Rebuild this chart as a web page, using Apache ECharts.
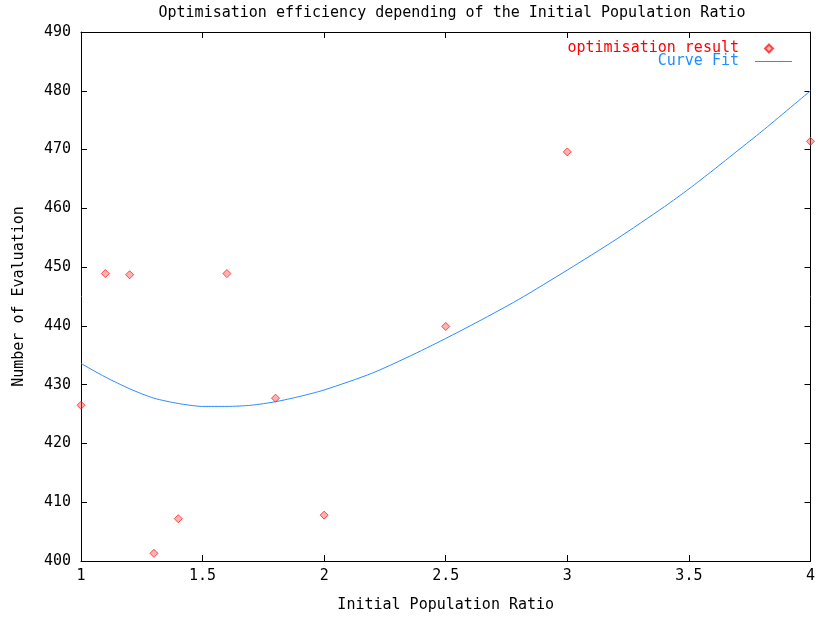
<!DOCTYPE html>
<html>
<head>
<meta charset="utf-8">
<script src="https://cdn.jsdelivr.net/npm/echarts@6/dist/echarts.min.js"></script>
<style>
  html, body { margin: 0; padding: 0; background: #fff; }
  #chart { width: 818px; height: 618px; }
</style>
</head>
<body>
<div id="chart"></div>
<script>
// Measured optimisation runs: ratio -> number of evaluations
const ratioValues = [1.0, 1.1, 1.2, 1.3, 1.4, 1.6, 1.8, 2.0, 2.5, 3.0, 4.0];
const evalValues  = [426.5, 448.9, 448.7, 401.3, 407.2, 448.9, 427.7, 407.8, 439.9, 469.6, 471.4];

// Fitted curve samples
const fitX = [1.0, 1.1, 1.2, 1.3, 1.4, 1.5, 1.6, 1.7, 1.8, 1.9, 2.0, 2.2, 2.4, 2.6, 2.8, 3.0, 3.2, 3.4, 3.5, 3.6, 3.7, 3.8, 4.0];
const fitY = [433.6, 431.3, 429.3, 427.7, 426.8, 426.3, 426.3, 426.5, 427.1, 428.0, 429.1, 432.0, 435.8, 440.0, 444.5, 449.5, 454.7, 460.3, 463.3, 466.5, 469.8, 473.1, 480.0];

const FONT = 'DejaVu Sans Mono';
const pts = ratioValues.map((x, i) => [x, evalValues[i]]);
const fit = fitX.map((x, i) => [x, fitY[i]]);

const chart = echarts.init(document.getElementById('chart'), null, { renderer: 'canvas' });

const tickStyle = { show: true, inside: true, length: 6, lineStyle: { color: '#000', width: 1 } };

chart.setOption({
  animation: false,
  backgroundColor: '#ffffff',
  textStyle: { fontFamily: FONT },
  title: {
    text: 'Optimisation efficiency depending of the Initial Population Ratio',
    left: 447,
    top: 1,
    textAlign: 'center',
    textStyle: { fontFamily: FONT, fontSize: 15, fontWeight: 'normal', color: '#000' }
  },
  legend: {
    orient: 'vertical',
    right: 20,
    top: 36,
    align: 'right',
    itemWidth: 37,
    itemHeight: 8,
    itemGap: -2,
    symbolKeepAspect: true,
    selectedMode: false,
    textStyle: { fontFamily: FONT, fontSize: 15, lineHeight: 14, padding: [0, 11, 0, 0] },
    data: [
      {
        name: 'optimisation result',
        // small diamond sitting inside a 37x8 legend box
        icon: 'path://M0,0 M37,8 M14,0 L18,4 L14,8 L10,4 Z',
        textStyle: { color: '#ff0000' }
      },
      {
        name: 'Curve Fit',
        icon: 'path://M0,0 H37 V1.2 H0 Z',
        itemStyle: { color: '#2b8cff' },
        textStyle: { color: '#1e8cff' }
      }
    ]
  },
  grid: { left: 81, right: 6, top: 32, bottom: 47 },
  xAxis: [
    {
      type: 'value', min: 1, max: 4, interval: 0.5,
      name: 'Initial Population Ratio', nameLocation: 'middle', nameGap: 37,
      nameTextStyle: { fontFamily: FONT, fontSize: 15, color: '#000' },
      axisLine: { show: true, onZero: false, lineStyle: { color: '#000', width: 1 } },
      axisTick: tickStyle,
      axisLabel: { fontFamily: FONT, fontSize: 15, color: '#000', margin: 8 },
      splitLine: { show: false }
    },
    {
      type: 'value', min: 1, max: 4, interval: 0.5, position: 'top',
      axisLine: { show: true, onZero: false, lineStyle: { color: '#000', width: 1 } },
      axisTick: tickStyle,
      axisLabel: { show: false },
      splitLine: { show: false }
    }
  ],
  yAxis: [
    {
      type: 'value', min: 400, max: 490, interval: 10,
      name: 'Number of Evaluation', nameLocation: 'middle', nameGap: 54, nameRotate: 90,
      nameTextStyle: { fontFamily: FONT, fontSize: 15, color: '#000' },
      axisLine: { show: true, onZero: false, lineStyle: { color: '#000', width: 1 } },
      axisTick: tickStyle,
      axisLabel: { fontFamily: FONT, fontSize: 15, color: '#000', margin: 10 },
      splitLine: { show: false }
    },
    {
      type: 'value', min: 400, max: 490, interval: 10, position: 'right',
      axisLine: { show: true, onZero: false, lineStyle: { color: '#000', width: 1 } },
      axisTick: tickStyle,
      axisLabel: { show: false },
      splitLine: { show: false }
    }
  ],
  series: [
    {
      name: 'optimisation result',
      type: 'scatter',
      data: pts,
      symbol: 'diamond',
      symbolSize: 8,
      clip: false,
      itemStyle: { color: 'rgba(255,80,80,0.55)', borderColor: '#ff2020', borderWidth: 1 },
      z: 3
    },
    {
      name: 'Curve Fit',
      type: 'line',
      data: fit,
      smooth: 0.25,
      showSymbol: false,
      symbol: 'none',
      lineStyle: { color: '#2b8cff', width: 1 },
      itemStyle: { color: '#2b8cff' },
      z: 2
    }
  ]
});
</script>
</body>
</html>
